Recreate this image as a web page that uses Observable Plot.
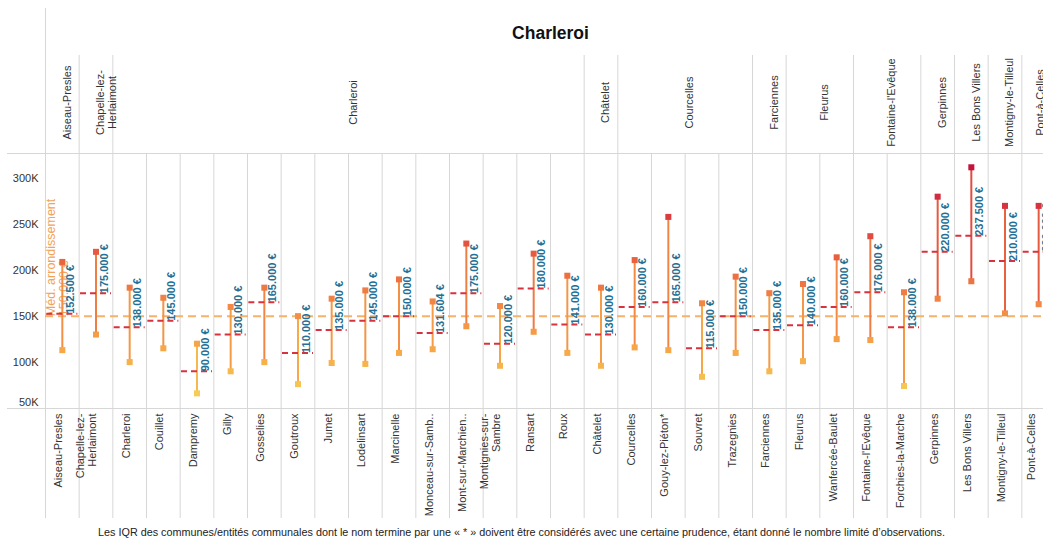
<!DOCTYPE html>
<html><head><meta charset="utf-8">
<script src="https://cdn.jsdelivr.net/npm/d3@7"></script>
<script src="https://cdn.jsdelivr.net/npm/@observablehq/plot@0.6"></script>
<style>
html,body{margin:0;padding:0;background:#fff;overflow:hidden;width:1043px;height:541px;position:relative}
#chart{position:absolute;left:0;top:0;width:1056px}
#chart svg{max-width:none !important;width:1056px;height:522px}
#caption{position:absolute;left:0;top:523px;width:1043px;text-align:center;font:10.8px "Liberation Sans",Arial,sans-serif;color:#222;line-height:19px}
</style></head><body>
<div id="chart"></div>
<div id="caption">Les IQR des communes/entités communales dont le nom termine par une « * » doivent être considérés avec une certaine prudence, étant donné le nombre limité d’observations.</div>
<script>
const title = "Charleroi";
const entityLabels = ["Aiseau-Presles","Chapelle-lez-\nHerlaimont","Charleroi","Couillet","Dampremy","Gilly","Gosselies","Goutroux","Jumet","Lodelinsart","Marcinelle","Monceau-sur-Samb..","Mont-sur-Marchien..","Montignies-sur-\nSambre","Ransart","Roux","Châtelet","Courcelles","Gouy-lez-Piéton*","Souvret","Trazegnies","Farciennes","Fleurus","Wanfercée-Baulet","Fontaine-l'Evêque","Forchies-la-Marche","Gerpinnes","Les Bons Villers","Montigny-le-Tilleul","Pont-à-Celles"];
const communes = ["Aiseau-Presles","Chapelle-lez-\nHerlaimont","Charleroi","Charleroi","Charleroi","Charleroi","Charleroi","Charleroi","Charleroi","Charleroi","Charleroi","Charleroi","Charleroi","Charleroi","Charleroi","Charleroi","Châtelet","Courcelles","Courcelles","Courcelles","Courcelles","Farciennes","Fleurus","Fleurus","Fontaine-l'Evêque","Fontaine-l'Evêque","Gerpinnes","Les Bons Villers","Montigny-le-Tilleul","Pont-à-Celles"];
const q3 = [209000,220000,181000,170000,120000,160000,181000,150000,169000,178000,190000,166000,229000,161000,218000,194000,181000,211000,258000,164000,193000,175000,185000,214000,237000,176000,280000,312000,270000,270000];
const q1 = [113000,130000,100000,115000,66000,90000,100000,76000,99000,98000,110000,114000,139000,96000,133000,110000,96000,116000,113000,84000,110000,90000,101000,125000,124000,74000,169000,188000,153000,163000];
const medians = [152500,175000,138000,145000,90000,130000,165000,110000,135000,145000,150000,131604,175000,120000,180000,141000,130000,160000,165000,115000,150000,135000,140000,160000,176000,138000,220000,237500,210000,220000];
const refMedian = 150000;
const refLabel = "Méd. arrondissement\n150.000 €";
const yTicks = [100000,150000,200000,250000,300000];
const yTickLow = [50000];
const yDomain = [49500, 327000];

const fmtEuro = v => `${Math.floor(v/1000)}.${String(v%1000).padStart(3,"0")} €`;

const rows = entityLabels.map((label,i)=>({i, label, commune: communes[i], q1: q1[i], q3: q3[i], med: medians[i]}));
const groups = [];
rows.forEach(r => {
  const g = groups[groups.length-1];
  if (g && g.name === r.commune) g.end = r.i + 1;
  else groups.push({name: r.commune, start: r.i, end: r.i + 1});
});
const groupBounds = groups.map(g => g.start).concat([rows.length]);
const colBounds = d3.range(rows.length + 1);
// the last column is partly outside the visible window: keep its labels readable
const labelX = c => Math.min(c, rows.length - 0.6);

const grid = "#d7d7d7";
const chart = Plot.plot({
  width: 1056, height: 522,
  marginLeft: 45, marginRight: 1, marginTop: 153, marginBottom: 114,
  style: {fontFamily: "'Liberation Sans', Arial, sans-serif", fontSize: "11px", color: "#333", background: "#fff", maxWidth: "none"},
  x: {type: "linear", domain: [0, rows.length], axis: null},
  y: {domain: yDomain, axis: null},
  color: {type: "linear", domain: [60000,110000,160000,210000,260000,315000],
          range: ["#f7cf58","#f6aa48","#f28a45","#e9623f","#db3a40","#c4123c"]},
  marks: [
    Plot.ruleX(colBounds, {x: d => d, stroke: grid, insetBottom: -110}),
    Plot.ruleX(groupBounds, {x: d => d, stroke: grid, insetTop: -98, insetBottom: 255}),
    Plot.ruleX([0], {x: d => d, stroke: grid, insetTop: -145, insetBottom: -110}),
    Plot.ruleY(yDomain, {y: d => d, stroke: grid, insetLeft: -38}),
    Plot.ruleY([refMedian], {y: d => d, stroke: "#f5b26b", strokeWidth: 2, strokeDasharray: "8,5"}),
    Plot.text([refMedian], {x: () => 0, y: d => d, text: () => refLabel, rotate: -90, textAnchor: "start", lineAnchor: "top", dx: 1, fill: "#f2a358", fontSize: 12.5, lineHeight: 1}),
    Plot.ruleX(rows, {x: d => d.i + 0.5, y1: "q1", y2: "q3", stroke: "med", strokeWidth: 2}),
    Plot.dot(rows, {x: d => d.i + 0.5, y: "q3", fill: "q3", symbol: "square", r: 3.4}),
    Plot.dot(rows, {x: d => d.i + 0.5, y: "q1", fill: "q1", symbol: "square", r: 3.4}),
    Plot.ruleY(rows, {y: "med", x1: d => d.i + 0.04, x2: d => d.i + 0.96, stroke: "#d9323f", strokeWidth: 2, strokeDasharray: "6,4"}),
    Plot.text(rows, {x: d => d.i + 0.5, y: "med", text: d => fmtEuro(d.med), rotate: -90, textAnchor: "start", dx: 8, fill: "#246f93", fontWeight: "bold", fontSize: 11}),
    Plot.text(rows, {x: d => labelX(d.i + 0.5), frameAnchor: "bottom", dy: 5, text: "label", rotate: -90, textAnchor: "end", fill: "#333", fontSize: 11, lineHeight: 1.05}),
    Plot.text(groups, {x: d => labelX((d.start + d.end) / 2), frameAnchor: "top", dy: -51, text: "name", rotate: -90, textAnchor: "middle", fill: "#333", fontSize: 11, lineHeight: 1.05}),
    Plot.text([title], {frameAnchor: "top", dy: -127, text: d => d, fontWeight: "bold", fontSize: 17.5, fill: "#111"}),
    Plot.axisY(yTicks, {tickSize: 0, tickPadding: 7, tickFormat: d => d/1000 + "K", fontSize: 11, fill: "#333", label: null}),
    Plot.axisY(yTickLow, {tickSize: 0, tickPadding: 7, tickFormat: d => d/1000 + "K", fontSize: 11, fill: "#333", label: null, dy: -6})
  ]
});
document.getElementById("chart").appendChild(chart);
</script>
</body></html>
